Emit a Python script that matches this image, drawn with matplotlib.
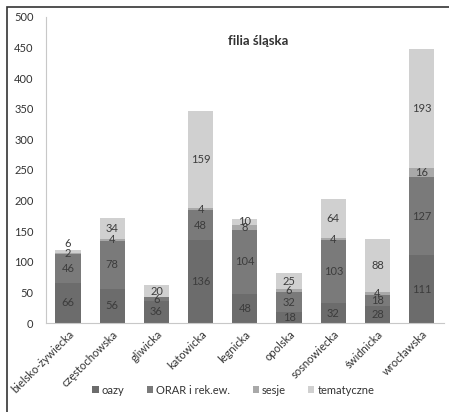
import matplotlib
matplotlib.use("Agg")
import matplotlib.pyplot as plt
import numpy as np
from matplotlib.patches import Rectangle

plt.rcParams['font.family'] = ['Lato', 'DejaVu Sans']

# filie diecezjalne i liczba uczestników w poszczególnych formach
filie = ["bielsko-żywiecka", "częstochowska", "gliwicka", "katowicka", "legnicka",
         "opolska", "sosnowiecka", "świdnicka", "wrocławska"]
oazy = [66, 56, 36, 136, 48, 18, 32, 28, 111]
orar = [46, 78, 6, 48, 104, 32, 103, 18, 127]
sesje = [2, 4, 0, 4, 8, 6, 4, 4, 16]
tematyczne = [6, 34, 20, 159, 10, 25, 64, 88, 193]

serie = [("oazy", oazy, "#6c6c6c"),
         ("ORAR i rek.ew.", orar, "#7a7a7a"),
         ("sesje", sesje, "#a9a9a9"),
         ("tematyczne", tematyczne, "#d0d0d0")]

fig = plt.figure(figsize=(4.49, 4.12), dpi=100)
ax = fig.add_axes([0.1024, 0.216, 0.886, 0.743])

x = np.arange(len(filie))
dol = np.zeros(len(filie))
for i, (nazwa, wart, kolor) in enumerate(serie):
    wart = np.array(wart, dtype=float)
    ax.bar(x, wart, 0.57, bottom=dol, color=kolor, label=nazwa, edgecolor="none")
    for xi, b, v in zip(x, dol, wart):
        if v <= 0:
            continue
        if i == len(serie) - 1 and v < 8:
            # zbyt cienki segment na górze - etykieta nad słupkiem
            ax.text(xi, b + v + 1, f"{int(v)}", ha="center", va="bottom",
                    fontsize=8, color="#3c3c3c")
        else:
            ax.text(xi, b + v / 2, f"{int(v)}", ha="center", va="center",
                    fontsize=8, color="#3c3c3c")
    dol += wart

ax.set_xlim(-0.5, len(filie) - 0.5)
ax.set_ylim(0, 500)
ax.set_yticks(range(0, 501, 50))
ax.set_xticks(x)
ax.set_xticklabels(filie, rotation=45, ha="right", rotation_mode="anchor")
ax.tick_params(axis="both", length=0, labelsize=8, colors="#333333")
ax.tick_params(axis="y", pad=9)
ax.tick_params(axis="x", pad=4)
for s in ["top", "right"]:
    ax.spines[s].set_visible(False)
for s in ["left", "bottom"]:
    ax.spines[s].set_color("#c8c8c8")

fig.text(0.575, 0.9, "filia śląska", ha="center", va="center",
         fontsize=9.5, fontweight="bold", color="#333333")

fig.legend(loc="center", bbox_to_anchor=(0.52, 0.053), ncol=4, frameon=False,
           fontsize=8, handlelength=0.55, handleheight=0.55, handletextpad=0.3,
           columnspacing=2.0, labelcolor="#333333")

# ramka wokół całego wykresu
fig.patches.append(Rectangle((7 / 449, -0.01), 1.0, 1 - 7 / 412 + 0.01,
                             transform=fig.transFigure, fill=False,
                             edgecolor="#333333", linewidth=1.2))

fig.savefig("out.png", dpi=100)
